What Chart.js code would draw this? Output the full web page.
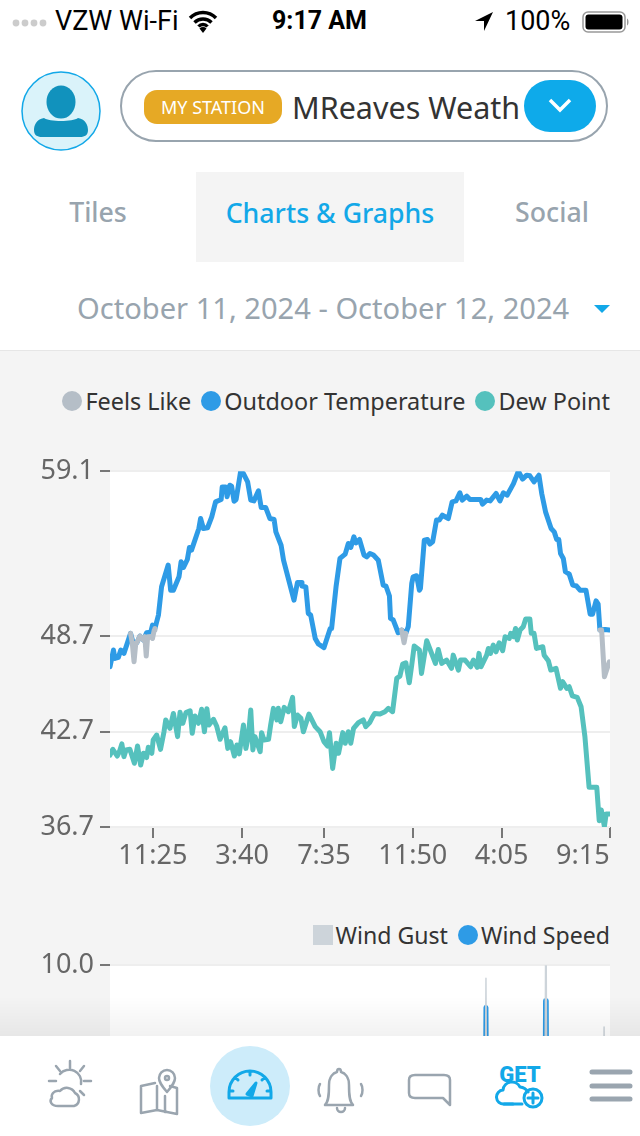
<!DOCTYPE html>
<html>
<head>
<meta charset="utf-8">
<title>Charts & Graphs</title>
<script src="https://cdn.jsdelivr.net/npm/chart.js@4"></script>
<style>
  html, body { margin: 0; padding: 0; background: #fff; }
  #page { position: relative; width: 640px; height: 1136px; overflow: hidden; background: #fff; font-family: "Noto Sans", sans-serif; }
  #page > * { position: absolute; }
  .status { top: 6px; font-family: Roboto, sans-serif; font-size: 27px; color: #000; line-height: 30px; white-space: nowrap; }
  #pill { left: 120px; top: 70px; width: 484px; height: 68px; border: 2px solid #98a4ae; border-radius: 36px; }
  #badge { left: 144px; top: 90px; width: 138px; height: 34px; border-radius: 13px; background: #e6a925; color: #fff; font-size: 18px; line-height: 35px; text-align: center; }
  #title { left: 292px; top: 86px; width: 229px; overflow: hidden; white-space: nowrap; font-size: 30.5px; line-height: 42px; color: #333; }
  #drop { left: 524px; top: 80px; width: 72px; height: 52px; border-radius: 26px; background: #0eaaea; }
  .tab { top: 192px; font-size: 26.7px; line-height: 40px; font-weight: 500; color: #98a4ae; text-align: center; }
  #tab-on { left: 196px; top: 172px; width: 268px; height: 90px; background: #f4f4f4; line-height: 82px; color: #12a8e8; }
  #dates { left: 77px; top: 288px; font-size: 29.1px; line-height: 40px; color: #98a4ae; white-space: nowrap; }
  #caret { left: 594px; top: 305px; width: 0; height: 0; border-left: 8px solid transparent; border-right: 8px solid transparent; border-top: 8px solid #12a8e8; }
  #section { left: 0; top: 350px; width: 640px; height: 690px; background: #f4f4f4; border-top: 1px solid #e6e6e6; box-sizing: border-box; }
  .legend { right: 30px; display: flex; align-items: center; line-height: 30px; color: #333; white-space: nowrap; }
  .legend i { display: inline-block; width: 20px; height: 20px; margin: 0 3px 0 10px; border-radius: 50%; }
  #temp-legend { top: 386px; font-size: 23.4px; }
  #wind-legend { top: 920px; font-size: 23.1px; }
  #chart-wrap { left: 0; top: 449px; width: 640px; height: 430px; }
  #wind-wrap { left: 0; top: 943px; width: 640px; height: 430px; }
  #fade { left: 0; top: 996px; width: 640px; height: 40px; background: linear-gradient(rgba(0,0,0,0), rgba(0,0,0,.05)); }
  #footer { left: 0; top: 1036px; width: 640px; height: 100px; background: #fff; }
  #footer svg { position: absolute; left: 0; top: 0; }
</style>
</head>
<body>
<div id="page">
  <!-- ステータスバー -->
  <svg style="left:12px;top:18px" width="38" height="10"><g fill="#ccc"><circle cx="4" cy="5" r="3.4"/><circle cx="13" cy="5" r="3.4"/><circle cx="22" cy="5" r="3.4"/><circle cx="31" cy="5" r="3.4"/></g></svg>
  <div class="status" style="left:55px">VZW Wi-Fi</div>
  <svg style="left:188px;top:9px" width="30" height="24" viewBox="0 0 30 24"><path d="M2 9a18 18 0 0 1 26 0M6.500 13.500a12 12 0 0 1 17 0M10.500 17.500a6 6 0 0 1 9 0" fill="none" stroke="#000" stroke-width="3.400"/><path d="M15 24l-3.500-4.500a5 5 0 0 1 7 0z"/></svg>
  <div class="status" style="left:272px;font-weight:700;font-size:25px">9:17 AM</div>
  <svg style="left:474px;top:11px" width="20" height="21" viewBox="0 0 20 21"><path d="M19 1L1 10h9v10z"/></svg>
  <div class="status" style="left:505px">100%</div>
  <svg style="left:582px;top:9px" width="50" height="26" viewBox="0 0 50 26"><rect x="1" y="3" width="42" height="20" rx="5" fill="#fff" stroke="#999" stroke-width="1.500"/><rect x="3.500" y="5.500" width="37" height="15" rx="3"/><path d="M45 9.500c2 .5 2 6.500 0 7z" fill="#999"/></svg>

  <!-- ヘッダー -->
  <svg style="left:20px;top:70px" width="82" height="82" viewBox="0 0 82 82"><ellipse cx="41" cy="41" rx="39" ry="39" fill="#daf3fa" stroke="#12a8e8" stroke-width="1.500"/><ellipse cx="41" cy="32" rx="14.500" ry="16.500" fill="#1192bd"/><path d="M24 48c5 4 29 4 34 0 8 1 10 8 10 12 0 5-3 7-8 7H22c-5 0-8-2-8-7 0-4 2-11 10-12z" fill="#1192bd"/></svg>
  <div id="pill"></div>
  <div id="badge">MY STATION</div>
  <div id="title">MReaves Weather</div>
  <div id="drop"></div>
  <svg style="left:548px;top:97px" width="24" height="18"><path d="M2 3l10 10L22 3" fill="none" stroke="#fff" stroke-width="3.500"/></svg>

  <!-- タブ -->
  <div class="tab" style="left:38px;width:120px">Tiles</div>
  <div class="tab" id="tab-on">Charts &amp; Graphs</div>
  <div class="tab" style="left:492px;width:120px">Social</div>
  <div id="dates">October 11, 2024 - October 12, 2024</div>
  <div id="caret"></div>

  <div id="section"></div>
  <div class="legend" id="temp-legend"></div>
  <div id="chart-wrap"><canvas id="temp-chart" width="640" height="430"></canvas></div>
  <div class="legend" id="wind-legend"></div>
  <div id="wind-wrap"><canvas id="wind-chart" width="640" height="430"></canvas></div>
  <div id="fade"></div>

  <!-- 下部ナビ -->
  <div id="footer">
    <svg width="640" height="100" viewBox="0 0 640 100" fill="none" stroke="#9aa5af" stroke-width="2.500" stroke-linecap="round" stroke-linejoin="round">
      <ellipse cx="250" cy="50" rx="40" ry="40" fill="#cdecfa" stroke="none"/>
      <path d="M70 25v7M56 30l4 5M84 30l-4 5M49 45h7M84 45h7M84 59l-4-4M60 38a12 12 0 0 1 21 10"/>
      <path d="M58 70h16a7 7 0 0 0 1-13 9 9 0 0 0-15-2c-7-1-9 4-8 7-3 3-1 8 6 8z"/>
      <path d="M141 50l14-3M141 50v27l16-3 20 4V52l-7-2M141 50l0 0M157 50v24M165 60v16"/>
      <path d="M167 56c-6-7-8-10-8-14a8 8 0 0 1 16 0c0 4-2 7-8 14z"/><circle cx="167" cy="42" r="2"/>
      <g stroke="#12a8e8" stroke-width="3"><path d="M229 62v-6a21 21 0 0 1 42 0v6zM250 35v4M235 41l3 3M265 41l-3 3M229 55h4M271 55h-4"/><path d="M247 58l9-11-4 13z" fill="#12a8e8"/></g>
      <path d="M329 69h24c-4-4-4-12-4-20 0-8-4-12-8-13 0-2-1-3-2-3s-2 1-2 3c-4 1-8 5-8 13 0 8 0 16-4 20z"/>
      <path d="M337 72a4 4 0 0 0 8 0M320 48c-2 3-2 9 0 12M361 48c2 3 2 9 0 12"/>
      <path d="M415 39h29q6 0 6 5v18q0 3 0 7l-7-7h-28q-6 0-6-5V44q0-5 6-5z"/>
      <text x="520" y="46" fill="#12a8e8" stroke="none" text-anchor="middle" font-family="Roboto" font-size="22" font-weight="900">GET</text>
      <path d="M513 68h-9a7 7 0 0 1-1-14 9 9 0 0 1 17-3 10 10 0 0 1 8 5" stroke="#12a8e8" stroke-width="3"/><path d="M504 68h18" stroke="#12a8e8" stroke-width="3"/>
      <circle cx="533" cy="62" r="9" stroke="#12a8e8" stroke-width="3"/><path d="M533 57v10M528 62h10" stroke="#12a8e8" stroke-width="3"/>
      <path d="M592 36h38M592 50h38M592 63h38" stroke-width="5"/>
    </svg>
  </div>
</div>

<script>
// 気温チャートのデータ（9:20からの経過分）
const outdoorTimes = [0,10,14,24,31,40,59,67,77,86,96,105,117,122,129,139,148,167,174,182,198,204,211,222,228,234,255,260,268,280,292,303,319,322,332,336,344,349,356,362,375,383,395,404,413,426,434,447,459,471,476,491,498,528,538,549,551,562,569,576,589,598,614,632,636,649,660,675,684,691,700,706,716,729,737,746,756,770,784,792,802,805,813,827,837,849,856,866,870,880,888,891,902,911,918,926,937,945,954,971,982,993,1004,1011,1024,1033,1064,1069,1081,1091,1108,1119,1129,1140,1158,1172,1184,1196,1205,1217,1231,1239,1250,1266,1275,1282,1288,1293,1301,1307,1318,1328,1339,1349,1366,1378,1385,1395,1401,1406,1421,1433];
const outdoorValues = [46.79,47.84,47.31,47.38,47.84,47.63,48.89,48.26,48.30,48.72,48.47,48.93,48.97,49.41,49.20,50.04,51.82,53.19,51.61,51.61,52.45,53.40,53.04,53.54,54.30,54.13,55.49,56.12,55.49,55.54,56.23,57.17,57.32,58.11,58.11,57.49,58.22,58.16,57.21,57.32,59.10,58.95,58.43,57.28,57.23,57.86,56.81,56.81,56.12,56.06,55.28,54.44,53.50,50.98,52.10,52.10,51.87,51.82,50.15,50.04,48.57,48.22,47.99,49.20,49.20,51.87,53.61,53.88,54.55,54.30,54.97,54.59,54.80,53.82,53.71,53.92,53.82,53.50,51.93,51.87,51.24,49.83,49.73,48.93,49.10,48.89,49.31,52.03,52.45,52.52,51.61,51.72,54.76,54.80,54.51,54.65,56.02,56.02,56.33,56.12,57.17,57.23,57.74,57.28,57.53,57.32,57.32,57.02,57.28,57.23,57.70,57.23,57.74,57.59,58.32,59.10,58.60,58.85,58.81,58.43,58.85,57.70,56.54,55.49,55.28,54.80,54.80,53.92,53.61,52.77,52.62,51.93,51.87,51.61,51.61,50.10,50.10,50.94,50.73,49.10,49.14,49.10];

const dewTimes = [0,8,21,27,34,40,46,57,70,79,88,96,105,110,120,124,134,145,155,160,172,182,194,201,209,218,230,236,244,254,263,271,278,284,297,306,316,330,338,346,357,364,371,383,390,397,404,410,416,431,435,442,455,461,469,479,483,490,500,512,524,529,538,548,555,571,589,603,614,624,630,639,649,656,668,675,684,691,699,713,727,734,746,754,760,775,789,799,811,823,832,840,849,859,866,873,888,894,909,923,934,942,952,966,980,985,1000,1006,1019,1035,1043,1054,1059,1065,1081,1086,1092,1100,1108,1117,1127,1134,1146,1150,1158,1164,1169,1177,1186,1193,1205,1209,1217,1224,1242,1246,1258,1265,1280,1293,1299,1311,1318,1327,1341,1352,1363,1375,1397,1404,1410,1419,1424,1433];
const dewValues = [41.23,41.59,41.17,41.44,41.93,41.13,41.55,41.59,40.71,41.80,40.60,41.34,41.07,41.72,41.34,42.18,42.49,41.59,42.70,43.44,42.91,43.85,42.39,43.92,43.23,43.90,44.02,42.60,43.69,43.23,44.11,42.70,44.15,43.12,43.48,43.06,42.22,42.95,41.65,42.07,41.17,41.86,41.30,43.12,41.65,42.39,44.06,41.55,42.39,41.44,42.64,42.18,42.22,43.12,44.17,43.44,44.17,43.33,44.23,43.96,44.86,43.02,43.75,43.54,42.70,43.81,43.02,42.70,42.07,41.80,42.64,40.39,41.97,41.34,42.64,41.97,42.70,41.97,42.91,43.27,43.44,43.02,43.30,43.65,43.85,43.81,43.96,44.17,43.96,46.06,46.20,46.96,47.04,45.78,46.90,48.09,47.84,46.37,48.43,47.63,47.00,47.88,47.00,47.21,46.69,47.52,46.58,47.21,47.21,46.79,47.21,46.75,47.63,46.79,47.52,47.94,47.63,48.15,47.73,48.30,47.80,48.68,48.57,48.89,48.68,49.20,48.47,49.10,49.31,49.79,49.79,48.89,48.89,47.94,48.05,47.52,47.17,46.58,46.69,45.43,45.85,45.43,45.53,44.95,44.86,44.27,42.39,39.20,39.20,37.10,37.77,36.73,37.52,37.52];

// Feels Like は外気温と違うところだけ（nullで線を切る）
const feelsTimes = [59,64,69,74,77,86,96,100,104,108,117,122,127,129,135,837,844,849,855,1406,1411,1419,1433];
const feelsValues = [48.89,48.26,47.10,48.26,48.30,48.72,48.47,48.68,47.46,48.68,48.68,48.57,49.10,49.20,null,49.10,48.30,48.89,null,49.10,49.10,46.16,47.10];

const tempTicks = [36.7,42.7,48.7,59.1];
const timeTicks = [0,123,379,614,869,1124,1434];
const timeLabels = ["","11:25","3:40","7:35","11:50","4:05","9:15"];

// 風のグラフ（下半分はナビに隠れている）
const windTimes = [0,1074,1079,1084,1246,1250,1252,1256,1414,1418,1422,1434];
const gustValues = [0,0,9.63,0,0,10,10,0,0,8.26,0,0];
const speedValues = [0,0,8.81,0,0,9,9,0,0,2,0,0];
const windTicks = [0,5,10];

// 凡例
const tempLegend = [["Feels Like","#b5bec7"],["Outdoor Temperature","#2e9be6"],["Dew Point","#55c1bd"]];
const windLegend = [["Wind Gust","#cdd4da"],["Wind Speed","#2e9be6"]];

function renderLegend(id, items) {
  const box = document.getElementById(id);
  items.forEach(([name, color]) => {
    const mark = document.createElement("i");
    mark.style.background = color;
    if (name === "Wind Gust") mark.style.borderRadius = "0";
    box.appendChild(mark);
    box.appendChild(document.createTextNode(name));
  });
}
renderLegend("temp-legend", tempLegend);
renderLegend("wind-legend", windLegend);

function toPoints(times, values) {
  return times.map((t, i) => ({ x: t, y: values[i] }));
}

// プロット領域を白く塗る
const plotBackground = {
  id: "plotBackground",
  beforeDraw(chart) {
    const { ctx, chartArea: a } = chart;
    ctx.save();
    ctx.fillStyle = "#fff";
    ctx.fillRect(a.left, a.top, a.width, a.height);
    ctx.restore();
  },
};

function axisOptions(yTicks, yMin, yMax, xHeight) {
  return {
    x: {
      type: "linear",
      min: 0,
      max: 1435,
      border: { display: false },
      grid: {
        drawOnChartArea: false,
        tickLength: 11,
        lineWidth: 2,
        tickColor: (c) => (c.index === 0 ? "transparent" : "#777"),
      },
      afterBuildTicks: (scale) => { scale.ticks = timeTicks.map((v) => ({ value: v })); },
      afterFit: (scale) => { scale.height = xHeight; },
      ticks: {
        autoSkip: false,
        maxRotation: 0,
        align: "inner",
        padding: 2,
        color: "#666",
        font: { family: "Noto Sans", size: 27 },
        callback: (v, i) => timeLabels[i],
      },
    },
    y: {
      min: yMin,
      max: yMax,
      border: { display: false },
      grid: { color: "#eeeeee", lineWidth: 2, tickLength: 10, tickColor: "#777" },
      afterBuildTicks: (scale) => { scale.ticks = yTicks.map((v) => ({ value: v })); },
      afterFit: (scale) => { scale.width = 110; },
      ticks: {
        padding: 6,
        color: "#666",
        font: { family: "Noto Sans", size: 27 },
        callback: (v) => v.toFixed(1),
      },
    },
  };
}

function lineSet(label, times, values, color, width) {
  return {
    label,
    data: toPoints(times, values),
    borderColor: color,
    borderWidth: width,
    pointRadius: 0,
    tension: 0,
    borderJoinStyle: "round",
    borderCapStyle: "round",
    spanGaps: false,
  };
}

const baseOptions = {
  responsive: false,
  animation: false,
  events: [],
  plugins: { legend: { display: false }, tooltip: { enabled: false } },
};

new Chart(document.getElementById("temp-chart"), {
  type: "line",
  plugins: [plotBackground],
  data: {
    datasets: [
      lineSet("Dew Point", dewTimes, dewValues, "#55c1bd", 5),
      lineSet("Feels Like", feelsTimes, feelsValues, "#b5bec7", 5),
      lineSet("Outdoor Temperature", outdoorTimes, outdoorValues, "#2e9be6", 5),
    ],
  },
  options: {
    ...baseOptions,
    layout: { padding: { top: 0, right: 30, bottom: 0, left: 0 } },
    scales: axisOptions(tempTicks, 36.7, 59.1, 52),
  },
});

new Chart(document.getElementById("wind-chart"), {
  type: "line",
  plugins: [plotBackground],
  data: {
    datasets: [
      lineSet("Wind Gust", windTimes, gustValues, "#cdd4da", 1.5),
      lineSet("Wind Speed", windTimes, speedValues, "#2e9be6", 5),
    ],
  },
  options: {
    ...baseOptions,
    layout: { padding: { top: 0, right: 30, bottom: 0, left: 0 } },
    scales: axisOptions(windTicks, 0, 10, 52),
  },
});
</script>
</body>
</html>
